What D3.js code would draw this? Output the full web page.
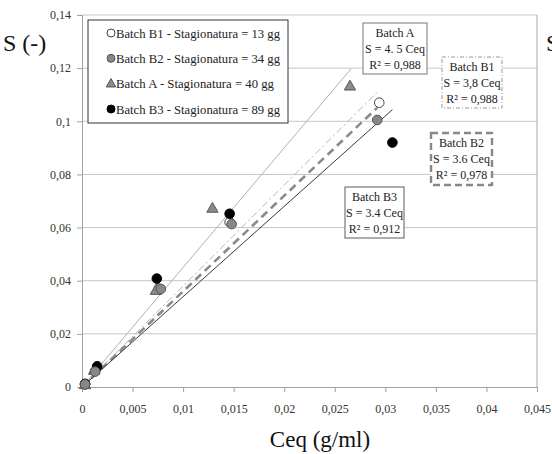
<!DOCTYPE html>
<html>
<head>
<meta charset="utf-8">
<script src="https://cdn.jsdelivr.net/npm/d3@7"></script>
<style>
  body { margin: 0; background: #fff; }
  text { font-family: "Liberation Serif", "Times New Roman", serif !important; }
</style>
</head>
<body>
<svg id="chart"></svg>
<script>
const width = 552;
const height = 454;

// data
const seriesNames = ['Batch B1 - Stagionatura = 13 gg', 'Batch B2 - Stagionatura = 34 gg',
    'Batch A - Stagionatura = 40 gg', 'Batch B3 - Stagionatura = 89 gg'];
const b1 = [[0.0003, 0.001], [0.0013, 0.006], [0.0076, 0.037], [0.0146, 0.062], [0.0294, 0.107]];
const b2 = [[0.0003, 0.001], [0.0013, 0.0058], [0.0078, 0.0369], [0.0148, 0.0613], [0.0292, 0.1005]];
const bA = [[0.0003, 0.0006], [0.0012, 0.006], [0.0073, 0.0361], [0.0129, 0.067], [0.0265, 0.113]];
const b3 = [[0.0003, 0.0012], [0.0015, 0.0078], [0.0074, 0.0408], [0.0146, 0.0652], [0.0307, 0.092]];
// trend lines S = k * Ceq, drawn up to trendEnd
const slopes = [4.5, 3.8, 3.6, 3.4];
const trendEnd = [0.0266, 0.0293, 0.0292, 0.0307];
const xTicks = [0, 0.005, 0.01, 0.015, 0.02, 0.025, 0.03, 0.035, 0.04, 0.045];
const yTicks = [0, 0.02, 0.04, 0.06, 0.08, 0.1, 0.12, 0.14];
const boxTexts = [
    ['Batch A', 'S = 4. 5 Ceq', 'R² = 0,988'],
    ['Batch B1', 'S = 3,8 Ceq', 'R² = 0,988'],
    ['Batch B2', 'S = 3.6 Ceq', 'R² = 0,978'],
    ['Batch B3', 'S = 3.4 Ceq', 'R² = 0,912']
];

const svg = d3.select('#chart')
    .attr('width', width)
    .attr('height', height);

const x = d3.scaleLinear().domain([0, 0.045]).range([82, 537]);
const y = d3.scaleLinear().domain([0, 0.14]).range([387, 15]);
const fmt = d => d3.format('')(d).replace('.', ',');

// gridlines
svg.append('g')
    .selectAll('line')
    .data(yTicks.slice(1))
    .join('line')
    .attr('x1', x(0)).attr('x2', x(0.045))
    .attr('y1', d => y(d)).attr('y2', d => y(d))
    .attr('stroke', '#c6c6c6');

// plot border (right side)
svg.append('line')
    .attr('x1', x(0.045)).attr('x2', x(0.045))
    .attr('y1', y(0.14)).attr('y2', y(0))
    .attr('stroke', '#a8a8a8');

const xAxis = svg.append('g')
    .attr('transform', `translate(0,${y(0)})`)
    .call(d3.axisBottom(x).tickValues(xTicks).tickFormat(fmt).tickSize(5).tickPadding(12));
const yAxis = svg.append('g')
    .attr('transform', `translate(${x(0)},0)`)
    .call(d3.axisLeft(y).tickValues(yTicks).tickFormat(fmt).tickSize(5).tickPadding(6));

[xAxis, yAxis].forEach(g => {
    g.attr('font-family', null);
    g.select('.domain').attr('stroke', '#a0a0a0');
    g.selectAll('.tick line').attr('stroke', '#a0a0a0');
    g.selectAll('.tick text')
        .attr('fill', '#333')
        .style('font-size', '12px');
});

// trend lines
const lineStyles = [
    { stroke: '#b0b0b0', width: 1, dash: null },
    { stroke: '#b4b4b4', width: 1, dash: '7,3,2,3' },
    { stroke: '#8a8a8a', width: 2.6, dash: '8,5' },
    { stroke: '#3a3a3a', width: 1, dash: null }
];
svg.append('g')
    .selectAll('line')
    .data(slopes)
    .join('line')
    .attr('x1', x(0)).attr('y1', y(0))
    .attr('x2', (d, i) => x(trendEnd[i]))
    .attr('y2', (d, i) => y(d * trendEnd[i]))
    .attr('stroke', (d, i) => lineStyles[i].stroke)
    .attr('stroke-width', (d, i) => lineStyles[i].width)
    .attr('stroke-dasharray', (d, i) => lineStyles[i].dash);

// markers
const tri = d3.symbol().type(d3.symbolTriangle).size(55);
const marks = svg.append('g');
function circles(data, fill, stroke) {
    marks.append('g')
        .selectAll('circle')
        .data(data)
        .join('circle')
        .attr('cx', d => x(d[0]))
        .attr('cy', d => y(d[1]))
        .attr('r', 4.8)
        .attr('fill', fill)
        .attr('stroke', stroke)
        .attr('stroke-width', 1);
}
circles(b1, '#fff', '#444');
marks.append('g')
    .selectAll('path')
    .data(bA)
    .join('path')
    .attr('d', tri)
    .attr('transform', d => `translate(${x(d[0])},${y(d[1])})`)
    .attr('fill', '#8c8c8c')
    .attr('stroke', '#555');
circles(b3, '#000', '#000');
circles(b2, '#878787', '#555');

// legend
const legend = svg.append('g');
legend.append('rect')
    .attr('x', 88).attr('y', 20)
    .attr('width', 200).attr('height', 103)
    .attr('fill', '#fff')
    .attr('stroke', '#333');
const legendMarks = [
    { type: 'circle', fill: '#fff', stroke: '#444' },
    { type: 'circle', fill: '#878787', stroke: '#555' },
    { type: 'tri', fill: '#8c8c8c', stroke: '#555' },
    { type: 'circle', fill: '#000', stroke: '#000' }
];
const ly = d3.scalePoint().domain(d3.range(4)).range([33, 109]);
seriesNames.forEach((name, i) => {
    const m = legendMarks[i];
    if (m.type === 'circle') {
        legend.append('circle')
            .attr('cx', 111).attr('cy', ly(i))
            .attr('r', 4).attr('fill', m.fill).attr('stroke', m.stroke);
    } else {
        legend.append('path')
            .attr('d', d3.symbol().type(d3.symbolTriangle).size(40))
            .attr('transform', `translate(111,${ly(i) + 0.5})`)
            .attr('fill', m.fill).attr('stroke', m.stroke);
    }
    legend.append('text')
        .attr('x', 116).attr('y', ly(i))
        .attr('dy', '0.35em')
        .style('font-size', '13px')
        .attr('textLength', i === 2 ? 158 : 164)
        .attr('lengthAdjust', 'spacingAndGlyphs')
        .attr('fill', '#222')
        .text(name);
});

// equation boxes
const boxes = [
    { x: 363, y: 23, w: 64, h: 51, stroke: '#777', sw: 1, dash: null },
    { x: 442, y: 57, w: 60, h: 51, stroke: '#999', sw: 1, dash: '4,2,1,2' },
    { x: 431, y: 133, w: 61, h: 52, stroke: '#888', sw: 2.4, dash: '7,4' },
    { x: 345, y: 187, w: 59, h: 51, stroke: '#777', sw: 1.2, dash: null }
];
boxes.forEach((b, i) => {
    const g = svg.append('g');
    g.append('rect')
        .attr('x', b.x).attr('y', b.y)
        .attr('width', b.w).attr('height', b.h)
        .attr('fill', '#fff')
        .attr('stroke', b.stroke)
        .attr('stroke-width', b.sw)
        .attr('stroke-dasharray', b.dash);
    boxTexts[i].forEach((t, j) => {
        g.append('text')
            .attr('x', b.x + b.w / 2)
            .attr('y', b.y + 10 + j * 16)
            .attr('dy', '0.35em')
            .attr('text-anchor', 'middle')
            .style('font-size', '12px')
            .attr('fill', '#222')
            .text(t);
    });
});

// axis titles
svg.append('text')
    .attr('x', 3).attr('y', 51)
    .style('font-size', '24px')
    .attr('fill', '#111')
    .text('S (-)');
svg.append('text')
    .attr('x', 546).attr('y', 51)
    .style('font-size', '24px')
    .attr('fill', '#111')
    .text('S');
svg.append('text')
    .attr('x', 320).attr('y', 447)
    .attr('text-anchor', 'middle')
    .style('font-size', '23px')
    .attr('fill', '#111')
    .text('Ceq (g/ml)');
</script>
</body>
</html>
